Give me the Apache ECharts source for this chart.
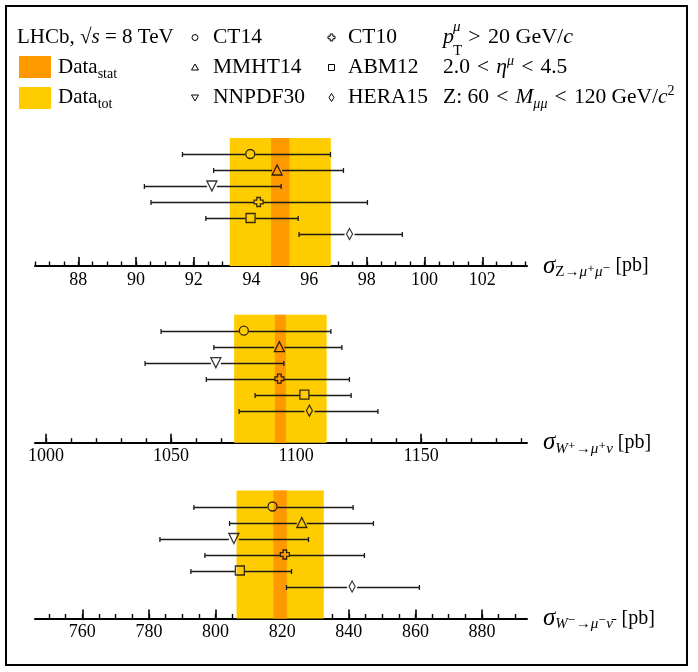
<!DOCTYPE html>
<html style="height: 100%">
<head>
<meta charset="utf-8">
<script src="https://cdn.jsdelivr.net/npm/echarts@6/dist/echarts.min.js"></script>
</head>
<body style="height: 100%; margin: 0; background: #fff;">
<div id="container" style="width: 698px; height: 672px;"></div>
<script type="text/javascript">

// ---- data ----
var models = ['CT14', 'MMHT14', 'NNPDF30', 'CT10', 'ABM12', 'HERA15'];
var rowPos = [7, 6, 5, 4, 3, 2];

// Z -> mu mu
var zCentral = [93.96, 94.89, 92.63, 94.25, 93.97, 97.40];
var zLow     = [91.61, 92.69, 90.29, 90.52, 92.42, 95.65];
var zHigh    = [96.74, 97.19, 95.03, 98.02, 95.62, 99.23];
var zMeas    = [95.0, 0.32, 1.75];   // value, stat, total
var zTicks   = [88, 90, 92, 94, 96, 98, 100, 102];

// W+ -> mu nu
var wpCentral = [1079.1, 1093.3, 1067.9, 1093.3, 1103.3, 1105.3];
var wpLow     = [1046.0, 1067.1, 1039.6, 1064.1, 1083.6, 1077.2];
var wpHigh    = [1113.9, 1118.3, 1095.1, 1121.3, 1122.0, 1132.7];
var wpMeas    = [1093.7, 2.2, 18.5];
var wpTicks   = [1000, 1050, 1100, 1150];

// W- -> mu nu
var wmCentral = [817.1, 825.9, 805.5, 820.8, 807.3, 841.0];
var wmLow     = [793.5, 804.2, 783.3, 796.8, 792.6, 821.3];
var wmHigh    = [841.3, 847.4, 827.9, 844.7, 822.8, 861.2];
var wmMeas    = [819.4, 2.0, 13.1];
var wmTicks   = [760, 780, 800, 820, 840, 860, 880];

// ---- style ----
var SERIF = "'Liberation Serif', 'DejaVu Serif', serif";
var STAT = '#ff9900';
var TOT = '#ffcc00';
var crossPath = 'path://M3,0L7,0L7,3L10,3L10,7L7,7L7,10L3,10L3,7L0,7L0,3L3,3Z';
var markers = [
    {symbol: 'circle', size: 9},
    {symbol: 'triangle', size: 10},
    {symbol: 'triangle', size: 10, rotate: 180},
    {symbol: crossPath, size: 9},
    {symbol: 'rect', size: 9},
    {symbol: 'diamond', size: [6, 11]}
];

var panels = [
    {central: zCentral, low: zLow, high: zHigh, meas: zMeas, ticks: zTicks,
     min: 86.5, max: 103.55, minor: 0.5, top: 138,
     name: '{s|σ}{b|Z→}{bi|μ⁺μ⁻}{p| [pb]}'},
    {central: wpCentral, low: wpLow, high: wpHigh, meas: wpMeas, ticks: wpTicks,
     min: 995.6, max: 1192.3, minor: 10, top: 314.7,
     name: '{s|σ}{bi|W⁺}{b|→}{bi|μ⁺ν}{p| [pb]}'},
    {central: wmCentral, low: wmLow, high: wmHigh, meas: wmMeas, ticks: wmTicks,
     min: 745.8, max: 893.5, minor: 5, top: 490.5,
     name: '{s|σ}{bi|W⁻}{b|→}{bi|μ⁻ν̄ }{p| [pb]}'}
];

function minorTicks(min, max, step) {
    var out = [];
    for (var v = Math.ceil(min / step) * step; v <= max + 1e-9; v += step) {
        out.push(+v.toFixed(4));
    }
    return out;
}

function renderBand(params, api) {
    var p0 = api.coord([api.value(0), 8]);
    var p1 = api.coord([api.value(1), 0]);
    return {
        type: 'rect',
        shape: {x: p0[0], y: p0[1], width: p1[0] - p0[0], height: p1[1] - p0[1]},
        style: {fill: params.dataIndex === 0 ? TOT : STAT}
    };
}

function renderErr(params, api) {
    var row = api.value(3);
    var a = api.coord([api.value(0), row]);
    var b = api.coord([api.value(1), row]);
    var c = api.coord([api.value(2), row]);
    var y = Math.round(a[1]) + 0.5;
    var gap = 5, cap = 2.5;
    var st = {stroke: '#1a1a1a', lineWidth: 1.3};
    var kids = [
        {type: 'line', shape: {x1: a[0], y1: y, x2: Math.max(a[0], c[0] - gap), y2: y}, style: st},
        {type: 'line', shape: {x1: Math.min(b[0], c[0] + gap), y1: y, x2: b[0], y2: y}, style: st},
        {type: 'line', shape: {x1: a[0], y1: y - cap, x2: a[0], y2: y + cap}, style: st},
        {type: 'line', shape: {x1: b[0], y1: y - cap, x2: b[0], y2: y + cap}, style: st}
    ];
    return {type: 'group', children: kids};
}

var grids = [], xAxes = [], yAxes = [], series = [];

panels.forEach(function (p, i) {
    grids.push({left: 35, right: 171, top: p.top, height: 128});
    xAxes.push({
        type: 'value', gridIndex: i, position: 'bottom',
        min: p.min, max: p.max,
        axisLine: {lineStyle: {color: '#000', width: 2}},
        axisTick: {inside: true, length: 9, customValues: p.ticks,
                   lineStyle: {color: '#000', width: 1.6}},
        axisLabel: {customValues: p.ticks, margin: 5, color: '#000',
                    fontFamily: SERIF, fontSize: 18,
                    formatter: function (v) { return String(v); }},
        splitLine: {show: false},
        name: p.name, nameLocation: 'end', nameGap: 16,
        nameTextStyle: {
            color: '#000', fontFamily: SERIF,
            rich: {
                s: {fontSize: 25, fontStyle: 'italic', fontFamily: SERIF, color: '#000'},
                b: {fontSize: 15, fontFamily: SERIF, color: '#000', padding: [12, 0, 0, 0]},
                bi: {fontSize: 15, fontStyle: 'italic', fontFamily: SERIF, color: '#000', padding: [12, 0, 0, 0]},
                p: {fontSize: 20, fontFamily: SERIF, color: '#000'}
            }
        }
    });
    xAxes.push({
        type: 'value', gridIndex: i, position: 'bottom',
        min: p.min, max: p.max,
        axisLine: {show: false},
        axisTick: {inside: true, length: 4.5, customValues: minorTicks(p.min, p.max, p.minor),
                   lineStyle: {color: '#000', width: 1.4}},
        axisLabel: {show: false},
        splitLine: {show: false}
    });
    yAxes.push({type: 'value', gridIndex: i, min: 0, max: 8, show: false});

    var m = p.meas;
    series.push({
        type: 'custom', xAxisIndex: 2 * i, yAxisIndex: i,
        renderItem: renderBand, encode: {x: [0, 1]}, silent: true, z: 1,
        data: [[m[0] - m[2], m[0] + m[2]], [m[0] - m[1], m[0] + m[1]]]
    });
    series.push({
        type: 'custom', xAxisIndex: 2 * i, yAxisIndex: i,
        renderItem: renderErr, encode: {x: [0, 1, 2], y: 3}, silent: true, z: 2,
        data: models.map(function (name, k) {
            return [p.low[k], p.high[k], p.central[k], rowPos[k]];
        })
    });
    series.push({
        type: 'scatter', xAxisIndex: 2 * i, yAxisIndex: i, silent: true, z: 3,
        itemStyle: {color: 'rgba(0,0,0,0)', borderColor: '#000', borderWidth: 1.3},
        data: models.map(function (name, k) {
            return {
                name: name,
                value: [p.central[k], rowPos[k]],
                symbol: markers[k].symbol,
                symbolSize: markers[k].size,
                symbolRotate: markers[k].rotate || 0
            };
        })
    });
});

// ---- legend / annotation block ----
function txt(x, y, text, rich, extra) {
    var st = {text: text, x: x, y: y, fill: '#000', font: '21px ' + SERIF,
              verticalAlign: 'middle', align: 'left'};
    if (rich) st.rich = rich;
    for (var k in extra || {}) st[k] = extra[k];
    return {type: 'text', style: st, z: 10};
}
function richSet(fs) {
    var sub = Math.round(fs * 0.67);
    return {
        n: {fontSize: fs, fontFamily: SERIF, color: '#000'},
        i: {fontSize: fs, fontFamily: SERIF, fontStyle: 'italic', color: '#000'},
        sb: {fontSize: sub, fontFamily: SERIF, color: '#000', padding: [14, 0, 0, 0]},
        sbi: {fontSize: sub, fontFamily: SERIF, fontStyle: 'italic', color: '#000', padding: [14, 0, 0, 0]},
        sp: {fontSize: sub, fontFamily: SERIF, color: '#000', padding: [0, 0, 12, 0]},
        spi: {fontSize: sub, fontFamily: SERIF, fontStyle: 'italic', color: '#000', padding: [0, 0, 12, 0]}
    };
}
var rich = richSet(21);
var richR = richSet(22);
var richR2 = richSet(21.5);
var sp = '\u2004';

function legendMarker(x, y, k) {
    var s = 6;
    var st = {fill: 'none', stroke: '#000', lineWidth: 1};
    if (k === 0) return {type: 'circle', shape: {cx: x, cy: y, r: 3}, style: st};
    if (k === 1) return {type: 'polygon', shape: {points: [[x, y - 3.5], [x + 3.5, y + 2.5], [x - 3.5, y + 2.5]]}, style: st};
    if (k === 2) return {type: 'polygon', shape: {points: [[x, y + 3.5], [x + 3.5, y - 2.5], [x - 3.5, y - 2.5]]}, style: st};
    if (k === 3) return {type: 'polygon', shape: {points: [[x - 1.3, y - 3.5], [x + 1.3, y - 3.5], [x + 1.3, y - 1.3], [x + 3.5, y - 1.3], [x + 3.5, y + 1.3], [x + 1.3, y + 1.3], [x + 1.3, y + 3.5], [x - 1.3, y + 3.5], [x - 1.3, y + 1.3], [x - 3.5, y + 1.3], [x - 3.5, y - 1.3], [x - 1.3, y - 1.3]]}, style: st};
    if (k === 4) return {type: 'rect', shape: {x: x - s / 2, y: y - s / 2, width: s, height: s}, style: st};
    return {type: 'polygon', shape: {points: [[x, y - 4], [x + 2.5, y], [x, y + 4], [x - 2.5, y]]}, style: st};
}

var rowY = [37, 67, 97];
var graphics = [
    {type: 'rect', shape: {x: 6, y: 6, width: 681, height: 659},
     style: {fill: 'none', stroke: '#000', lineWidth: 2}, z: 10},
    txt(17, rowY[0], '{n|LHCb, √}{i|s}{n| = 8 TeV}', rich),
    {type: 'rect', shape: {x: 19, y: 56, width: 32, height: 22}, style: {fill: STAT}},
    {type: 'rect', shape: {x: 19, y: 87, width: 32, height: 22}, style: {fill: TOT}},
    txt(58, rowY[1], '{n|Data}{sb|stat}', rich),
    txt(58, rowY[2], '{n|Data}{sb|tot}', rich),
    // kinematic cuts
    txt(443, rowY[0], 'p', null, {font: 'italic 22px ' + SERIF}),
    txt(453, rowY[0] - 10, 'μ', null, {font: 'italic 15px ' + SERIF}),
    txt(453, rowY[0] + 14, 'T', null, {font: '15px ' + SERIF}),
    txt(461, rowY[0], '{n|' + sp + '>' + sp + '20 GeV/}{i|c}', richR),
    txt(443, rowY[1], '{n|2.0' + sp + '<' + sp + '}{i|η}{spi|μ}{n|' + sp + '<' + sp + '4.5}', richR2),
    txt(443, rowY[2], '{n|Z: 60' + sp + '<' + sp + '}{i|M}{sbi|μμ}{n|' + sp + '<' + sp + '120 GeV/}{i|c}{sp|2}', richR2)
];
models.forEach(function (name, k) {
    var col = k < 3 ? 0 : 1;
    var r = k % 3;
    var mx = col === 0 ? 195 : 331.5;
    var tx = col === 0 ? 213 : 348;
    graphics.push(legendMarker(mx, rowY[r] + 0.5, k));
    graphics.push(txt(tx, rowY[r], name, null, {font: '21.5px ' + SERIF}));
});

var dom = document.getElementById('container');
var myChart = echarts.init(dom);
var option = {
    backgroundColor: '#fff',
    animation: false,
    grid: grids,
    xAxis: xAxes,
    yAxis: yAxes,
    series: series,
    graphic: graphics
};
myChart.setOption(option, true);

</script>
</body>
</html>
